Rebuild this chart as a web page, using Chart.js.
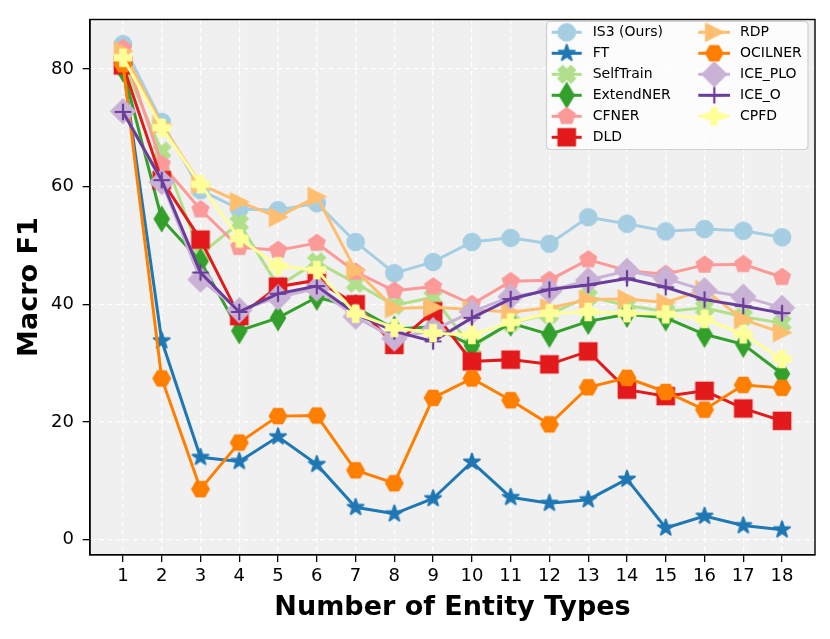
<!DOCTYPE html>
<html>
<head>
<meta charset="utf-8">
<script src="https://cdn.jsdelivr.net/npm/chart.js@4.4.1/dist/chart.umd.min.js"></script>
<style>
html,body{margin:0;padding:0;background:#fff;}
#c{display:block;}
</style>
</head>
<body>
<canvas id="c" width="830" height="639"></canvas>
<script>
const categories = [1,2,3,4,5,6,7,8,9,10,11,12,13,14,15,16,17,18];
const yTicks = [0,20,40,60,80];
const seriesNames = ["IS3 (Ours)","FT","SelfTrain","ExtendNER","CFNER","DLD","RDP","OCILNER","ICE_PLO","ICE_O","CPFD"];

const IS3       = [84.2,71.0,59.4,56.2,56.0,57.2,50.6,45.3,47.2,50.6,51.3,50.3,54.8,53.7,52.4,52.8,52.5,51.4];
const FT        = [80.5,33.8,14.0,13.3,17.5,12.8,5.5,4.4,7.0,13.2,7.2,6.2,6.8,10.3,2.0,4.0,2.4,1.7];
const SelfTrain = [81.0,66.0,48.5,53.8,43.1,47.2,43.6,39.8,41.2,32.7,36.9,38.3,41.3,39.8,38.8,39.4,37.9,36.8];
const ExtendNER = [80.0,54.5,47.3,35.5,37.7,41.2,39.5,35.8,36.2,33.0,36.8,34.9,37.1,38.3,37.7,34.9,33.2,28.2];
const CFNER     = [83.5,63.8,56.1,49.7,49.2,50.4,45.5,42.3,43.0,40.0,43.9,44.1,47.6,45.7,45.1,46.7,46.8,44.6];
const DLD       = [80.6,61.1,51.0,38.0,43.0,44.1,40.0,33.1,38.8,30.3,30.6,29.8,32.0,25.5,24.4,25.3,22.3,20.2];
const RDP       = [83.0,70.5,60.4,57.4,54.8,58.3,45.8,39.3,39.5,39.1,38.7,39.4,40.8,40.9,40.3,42.5,37.4,35.2];
const OCILNER   = [80.8,27.4,8.6,16.5,21.0,21.1,11.8,9.6,24.1,27.4,23.7,19.6,25.9,27.5,25.1,22.1,26.3,25.8];
const ICE_PLO   = [72.8,60.8,44.2,39.0,41.2,42.7,37.9,34.2,35.6,38.7,41.3,42.3,44.1,45.7,44.4,42.4,41.3,39.4];
const ICE_O     = [72.7,61.1,45.4,38.7,41.8,43.1,38.4,35.4,33.7,37.7,40.9,42.5,43.3,44.4,42.9,40.8,39.7,38.5];
const CPFD      = [81.9,70.0,60.4,51.2,46.5,45.8,38.4,36.0,35.1,34.8,36.9,38.5,38.7,38.5,38.3,37.5,34.9,30.7];

const seriesValues = [IS3,FT,SelfTrain,ExtendNER,CFNER,DLD,RDP,OCILNER,ICE_PLO,ICE_O,CPFD];
const colors = ["#a6cee3","#1f78b4","#b2df8a","#33a02c","#fb9a99","#e31a1c","#fdbf6f","#ff7f00","#cab2d6","#6a3d9a","#ffff99"];
const shapes = ["circle","star","xfilled","thindiamond","pentagon","square","triright","hexagon2","diamond","plus","plusfilled"];

const FONT = '"DejaVu Sans", sans-serif';
const MS = 16.7;

function makeMarker(shape, color){
  const S = 40, c = S/2;
  const cv = document.createElement('canvas');
  cv.width = S; cv.height = S;
  const g = cv.getContext('2d');
  g.fillStyle = color; g.strokeStyle = color; g.lineWidth = 2; g.lineJoin = 'miter';
  const poly = pts => { g.beginPath(); pts.forEach((p,i)=> i? g.lineTo(c+p[0],c+p[1]) : g.moveTo(c+p[0],c+p[1])); g.closePath(); g.fill(); g.stroke(); };
  const r = MS/2;
  if (shape==='circle'){ g.beginPath(); g.arc(c,c,r,0,Math.PI*2); g.fill(); g.stroke(); }
  else if (shape==='star'){
    const pts=[]; const ri = r*0.381966;
    for(let k=0;k<10;k++){ const a=-Math.PI/2+k*Math.PI/5; const rr = k%2? ri : r; pts.push([rr*Math.cos(a), rr*Math.sin(a)]); }
    g.lineJoin='round'; poly(pts);
  }
  else if (shape==='xfilled'){
    const b=[[-1,-2],[0,-1],[1,-2],[2,-1],[1,0],[2,1],[1,2],[0,1],[-1,2],[-2,1],[-1,0],[-2,-1]];
    poly(b.map(p=>[p[0]/4*MS, p[1]/4*MS]));
  }
  else if (shape==='thindiamond'){ const h=0.7071*MS, w=0.6*h; poly([[0,-h],[w,0],[0,h],[-w,0]]); }
  else if (shape==='diamond'){ const h=0.7071*MS; poly([[0,-h],[h,0],[0,h],[-h,0]]); }
  else if (shape==='pentagon'){ const pts=[]; for(let k=0;k<5;k++){ const a=-Math.PI/2+k*2*Math.PI/5; pts.push([r*Math.cos(a), r*Math.sin(a)]); } poly(pts); }
  else if (shape==='square'){ poly([[-r,-r],[r,-r],[r,r],[-r,r]]); }
  else if (shape==='triright'){ poly([[r,0],[-r,-r],[-r,r]]); }
  else if (shape==='hexagon2'){ const pts=[]; for(let k=0;k<6;k++){ const a=k*Math.PI/3; pts.push([r*Math.cos(a), r*Math.sin(a)]); } poly(pts); }
  else if (shape==='plus'){ g.lineWidth=2.2; g.beginPath(); g.moveTo(c-r,c); g.lineTo(c+r,c); g.moveTo(c,c-r); g.lineTo(c,c+r); g.stroke(); }
  else if (shape==='plusfilled'){
    const b=[[-1,-3],[1,-3],[1,-1],[3,-1],[3,1],[1,1],[1,3],[-1,3],[-1,1],[-3,1],[-3,-1],[-1,-1]];
    poly(b.map(p=>[p[0]/6*MS, p[1]/6*MS]));
  }
  return cv;
}

const markers = shapes.map((s,i)=>makeMarker(s, colors[i]));

const datasets = seriesNames.map((name,i)=>({
  label: name,
  data: categories.map((x,j)=>({x:x, y:seriesValues[i][j]})),
  borderColor: colors[i],
  backgroundColor: colors[i],
  borderWidth: 3,
  pointStyle: markers[i],
  pointRadius: 9,
  pointHoverRadius: 9,
  tension: 0,
  order: -i
}));

const decor = {
  id: 'decor',
  beforeDraw(chart){
    const {ctx, chartArea:a} = chart;
    ctx.save();
    ctx.fillStyle = '#ffffff'; ctx.fillRect(0,0,chart.width,chart.height);
    ctx.fillStyle = '#f0f0f0'; ctx.fillRect(a.left,a.top,a.right-a.left,a.bottom-a.top);
    ctx.restore();
  },
  afterDatasetsDraw(chart){
    const {ctx, chartArea:a} = chart;
    ctx.save();
    ctx.strokeStyle = '#000'; ctx.lineWidth = 1.4;
    ctx.strokeRect(a.left, a.top, a.right-a.left, a.bottom-a.top);
    ctx.restore();
  },
  afterDraw(chart){
    const ctx = chart.ctx;
    ctx.save();
    const bx=546.5, by=21.5, bw=261.5, bh=128, rad=4;
    ctx.beginPath();
    ctx.moveTo(bx+rad,by); ctx.lineTo(bx+bw-rad,by); ctx.quadraticCurveTo(bx+bw,by,bx+bw,by+rad);
    ctx.lineTo(bx+bw,by+bh-rad); ctx.quadraticCurveTo(bx+bw,by+bh,bx+bw-rad,by+bh);
    ctx.lineTo(bx+rad,by+bh); ctx.quadraticCurveTo(bx,by+bh,bx,by+bh-rad);
    ctx.lineTo(bx,by+rad); ctx.quadraticCurveTo(bx,by,bx+rad,by); ctx.closePath();
    ctx.fillStyle='rgba(255,255,255,0.8)'; ctx.fill();
    ctx.strokeStyle='rgba(204,204,204,0.9)'; ctx.lineWidth=1.2; ctx.stroke();
    ctx.font = '14px ' + FONT; ctx.fillStyle='#000'; ctx.textBaseline='middle'; ctx.textAlign='left';
    const cols = [{l0:551.7,l1:581.7,m:566.7,t:592.7},{l0:698.3,l1:730,m:714.3,t:740}];
    seriesNames.forEach((name,i)=>{
      const col = i<6?0:1, row = i<6? i : i-6;
      const y = 32.3 + row*21;
      const cc = cols[col];
      ctx.strokeStyle = colors[i]; ctx.lineWidth = 3;
      ctx.beginPath(); ctx.moveTo(cc.l0,y); ctx.lineTo(cc.l1,y); ctx.stroke();
      const mk = markers[i];
      ctx.drawImage(mk, cc.m - mk.width/2, y - mk.height/2);
      ctx.fillStyle='#000';
      ctx.fillText(name, cc.t, y+0.5);
    });
    ctx.restore();
  }
};

new Chart(document.getElementById('c'), {
  type: 'line',
  data: { datasets },
  plugins: [decor],
  options: {
    responsive: false,
    animation: false,
    events: [],
    layout: { padding: { left: 0, top: 13.3, right: 15, bottom: 0 } },
    plugins: { legend: { display: false }, tooltip: { enabled: false } },
    scales: {
      x: {
        type: 'linear', min: 0.15, max: 18.85,
        afterBuildTicks: s => { s.ticks = categories.map(v=>({value:v})); },
        afterFit: s => { s.height = 639 - 554.7; },
        ticks: { autoSkip:false, maxRotation:0, color:'#000', padding: 4, font:{family:FONT, size:18} },
        grid: { color:'rgba(255,255,255,1)', lineWidth:1.3, tickColor:'#000', tickLength:7.3, tickWidth:1.3 },
        border: { display:true, color:'#000', width:1.4, dash:[5,3.5] },
        title: { display:true, text:'Number of Entity Types', color:'#000', font:{family:FONT, size:27, weight:'bold'}, padding:{top:0,bottom:15} }
      },
      y: {
        type: 'linear', min: -2.55, max: 88.4,
        afterBuildTicks: s => { s.ticks = yTicks.map(v=>({value:v})); },
        afterFit: s => { s.width = 90; },
        ticks: { color:'#000', padding: 8.7, font:{family:FONT, size:18} },
        grid: { color:'rgba(255,255,255,1)', lineWidth:1.3, tickColor:'#000', tickLength:7.3, tickWidth:1.3 },
        border: { display:true, color:'#000', width:1.4, dash:[5,3.5] },
        title: { display:true, text:'Macro F1', color:'#000', font:{family:FONT, size:27, weight:'bold'}, padding:{top:14,bottom:0} }
      }
    }
  }
});
</script>
</body>
</html>
